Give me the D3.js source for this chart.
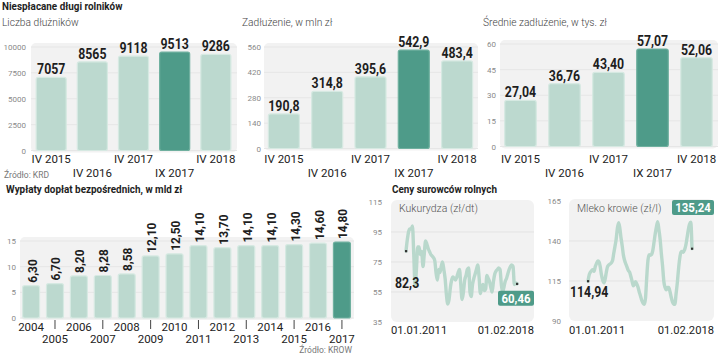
<!DOCTYPE html>
<html><head><meta charset="utf-8">
<script src="https://cdn.jsdelivr.net/npm/d3@7"></script>
<style>body{margin:0;background:#fff} svg{display:block}</style>
</head><body><svg id="c" width="720" height="357"></svg>
<script>
// ---------- DATA ----------
const debtCats = ["IV 2015", "IV 2016", "IV 2017", "IX 2017", "IV 2018"];
const debtHighlight = "IX 2017";
const debtorsCount = [7057, 8565, 9118, 9513, 9286];
const debtTotal = [190.8, 314.8, 395.6, 542.9, 483.4];
const debtAvg = [27.04, 36.76, 43.40, 57.07, 52.06];
const debtorsTicks = [0, 2500, 5000, 7500, 10000];
const totalTicks = [0, 140, 280, 420, 560];
const avgTicks = [0, 15, 30, 45, 60];

const payYears = ["2004","2005","2006","2007","2008","2009","2010","2011","2012","2013","2014","2015","2016","2017"];
const payValues = [6.30, 6.70, 8.20, 8.28, 8.58, 12.10, 12.50, 14.10, 13.70, 14.10, 14.10, 14.30, 14.60, 14.80];
const payHighlight = "2017";
const payTicks = [0, 5, 10, 15];

const priceStart = "01.01.2011", priceEnd = "01.02.2018";
const cornValues = [82.3,90,95,97,97,99,80,59,70,85,85,80,82,72,80,89,87,84,82,80,79,78,76,68,63,70,68,72,75,70,64,53,47,50,58,63,65,64,63,65,68,70,60,50,55,63,66,70,71,55,52,60,64,67,70,73,65,54,58,60,56,57,66,64,62,58,55,62,67,69,70,71,70,60,55,58,62,64,67,70,72,73,72,60,61,60.46];
const cornTicks = [35, 55, 75, 95, 115];
const milkValues = [114.94,119,120.5,121.5,122,121,124,126,127.5,127,124,119,115.6,113.8,116,120.5,124,125,125.6,126.3,127.6,132,136.5,141,148,151.5,148.5,142,137,131,127.8,125.5,123.5,121.5,120.5,118,115,112,113,114.5,113,111,108,105.5,102.8,101.2,100.4,104,117,128,131.5,131,131.5,134,139,144.5,149,152,147,141,132,124,115,111,109.5,111,111,108.5,105,102,100.7,100.4,107,114,122,129,133,133.5,133,134.5,137.5,142,147,150.5,151.8,135.24];
const milkTicks = [90, 115, 140, 165];

// ---------- STYLE ----------
const LIGHT = "#bcd9cf", DARK = "#4e9b89", LINE = "#b9d8cc", BG = "#f2f2f2";
const BOLD = "Roboto, 'Open Sans', sans-serif";
const REG = "Roboto, 'Open Sans', sans-serif";
const SQ = 0.88; // horizontal squeeze for condensed bold look
const comma = f => v => f(v).replace(".", ",");

const svg = d3.select("#c");

// condensed bold text helper
function ctext(parent, x, y, txt, size, opts = {}) {
  const rot = opts.rotate ? " rotate(-90)" : "";
  return parent.append("text")
    .attr("transform", `translate(${x},${y})${rot} scale(${opts.sq || SQ},1)`)
    .attr("text-anchor", opts.anchor || "start")
    .attr("font-family", BOLD).attr("font-weight", opts.weight || 700)
    .attr("font-size", size).attr("fill", opts.fill || "#1e1e1e").text(txt);
}

function barPanel(cats, vals, ticks, c) {
  const g = svg.append("g");
  const x = d3.scaleBand().domain(cats).range([c.x0, c.x1]).paddingInner(c.pi).paddingOuter(c.po);
  const y = d3.scaleLinear().domain([0, ticks[ticks.length - 1]]).range([c.yb, c.yt]);
  g.append("rect").attr("x", c.x0 + 1).attr("y", c.yt - 4).attr("width", c.x1 - c.x0 - 1)
    .attr("height", c.yb - c.yt + 6).attr("rx", 5).attr("fill", BG);
  g.selectAll(".grid").data(ticks).join("line")
    .attr("x1", c.x0 + 1).attr("x2", c.x1).attr("y1", d => y(d)).attr("y2", d => y(d))
    .attr("stroke", "#e6e6e6").attr("stroke-width", 1);
  const ax = g.append("g").attr("transform", `translate(${c.tickX},0)`)
    .call(d3.axisLeft(y).tickValues(ticks).tickFormat(d3.format("d")).tickSize(0).tickPadding(0));
  ax.select(".domain").remove();
  ax.selectAll("text").attr("font-family", REG).attr("font-size", 8).attr("fill", "#8a8a8a");
  g.selectAll(".bar").data(cats).join("rect")
    .attr("x", d => x(d)).attr("width", x.bandwidth())
    .attr("y", (d, i) => y(vals[i])).attr("height", (d, i) => y(0) - y(vals[i]))
    .attr("rx", 2).attr("fill", d => d === c.hl ? DARK : LIGHT)
    .attr("stroke", d => d === c.hl ? "#6fb09f" : "#d6e9e2").attr("stroke-width", 1.2);
  return {g, x, y};
}

// ---------- TOP ROW ----------
ctext(svg, 2, 10, "Niespłacane długi rolników", 11.5, {sq: 0.86});

const topCfgs = [
  {vals: debtorsCount, ticks: debtorsTicks, fmt: d3.format("d"), sub: "Liczba dłużników", subX: 2,
   x0: 30, x1: 237, pi: 0.27, po: 0.15, yb: 150.5, yt: 47, tickX: 26},
  {vals: debtTotal, ticks: totalTicks, fmt: comma(d3.format(".1f")), sub: "Zadłużenie, w mln zł", subX: 242,
   x0: 263, x1: 478, pi: 0.284, po: 0.125, yb: 148.5, yt: 47, tickX: 261},
  {vals: debtAvg, ticks: avgTicks, fmt: comma(d3.format(".2f")), sub: "Średnie zadłużenie, w tys. zł", subX: 483,
   x0: 499, x1: 718, pi: 0.284, po: 0.13, yb: 146.5, yt: 44, tickX: 496}
];
topCfgs.forEach(c => {
  c.hl = debtHighlight;
  const {g, x, y} = barPanel(debtCats, c.vals, c.ticks, c);
  svg.append("text").attr("x", c.subX).attr("y", 26).text(c.sub)
    .attr("font-family", REG).attr("font-weight", 300).attr("font-size", 10.2).attr("fill", "#444");
  debtCats.forEach((d, i) => {
    ctext(g, x(d) + x.bandwidth() / 2, y(c.vals[i]) - 3, c.fmt(c.vals[i]), 14, {anchor: "middle"});
  });
  g.selectAll(".lab").data(debtCats).join("text")
    .attr("x", d => x(d) + x.bandwidth() / 2).attr("y", (d, i) => i % 2 ? 176.5 : 162.5)
    .attr("text-anchor", "middle").text(d => d)
    .attr("font-family", REG).attr("font-size", 11.5).attr("fill", "#222");
});
svg.append("text").attr("x", 4).attr("y", 178).text("Źródło: KRD")
  .attr("font-family", REG).attr("font-size", 8.5).attr("fill", "#777");

// ---------- BOTTOM LEFT ----------
ctext(svg, 6, 193, "Wypłaty dopłat bezpośrednich, w mld zł", 11.5, {sq: 0.86});
{
  const c = {x0: 19, x1: 354, pi: 0.29, po: 0.15, yb: 318, yt: 241, tickX: 16, hl: payHighlight};
  const fmt = comma(d3.format(".2f"));
  const {g, x, y} = barPanel(payYears, payValues, payTicks, c);
  payYears.forEach((d, i) => {
    ctext(g, x(d) + x.bandwidth() / 2 + 5.5, y(payValues[i]) - 3, fmt(payValues[i]), 13.5, {rotate: true});
  });
  g.selectAll(".yr").data(payYears).join("text")
    .attr("x", d => x(d) + x.bandwidth() / 2).attr("y", (d, i) => i % 2 ? 342.5 : 331)
    .attr("text-anchor", "middle").text(d => d)
    .attr("font-family", REG).attr("font-size", 11.5).attr("fill", "#222");
  g.selectAll(".tk").data(payYears.filter((d, i) => i % 2)).join("line")
    .attr("x1", d => x(d) + x.bandwidth() / 2).attr("x2", d => x(d) + x.bandwidth() / 2)
    .attr("y1", 320).attr("y2", 329).attr("stroke", "#444").attr("stroke-width", 1);
}
svg.append("text").attr("x", 352).attr("y", 353).attr("text-anchor", "end").text("Źródło: KROW")
  .attr("font-family", REG).attr("font-size", 8.5).attr("fill", "#777");

// ---------- BOTTOM RIGHT: LINES ----------
ctext(svg, 392, 193, "Ceny surowców rolnych", 11.5, {sq: 0.86});

const months = d3.timeMonth.range(new Date(2011, 0, 1), new Date(2018, 2, 1));

function linePanel(vals, ticks, c) {
  const g = svg.append("g");
  const x = d3.scaleTime().domain([months[0], months[months.length - 1]]).range([c.lx0, c.lx1]);
  const y = d3.scaleLinear().domain([ticks[0], ticks[ticks.length - 1]]).range([c.yb, c.yt]);
  g.append("rect").attr("x", c.bx0).attr("y", c.yt - 2).attr("width", c.bx1 - c.bx0)
    .attr("height", c.yb - c.yt + 2).attr("rx", 6).attr("fill", BG);
  g.selectAll(".grid").data(ticks.slice(1, -1)).join("line")
    .attr("x1", c.bx0).attr("x2", c.bx1).attr("y1", d => y(d)).attr("y2", d => y(d))
    .attr("stroke", "#e3e3e3").attr("stroke-width", 1);
  const ax = g.append("g").attr("transform", `translate(${c.tickX},0)`)
    .call(d3.axisLeft(y).tickValues(ticks).tickFormat(d3.format("d")).tickSize(0).tickPadding(0));
  ax.select(".domain").remove();
  ax.selectAll("text").attr("font-family", REG).attr("font-size", 8).attr("fill", "#8a8a8a");
  const data = months.map((m, i) => ({m, v: vals[i]}));
  g.append("path").datum(data)
    .attr("d", d3.line().x(d => x(d.m)).y(d => y(d.v)).curve(d3.curveMonotoneX))
    .attr("fill", "none").attr("stroke", LINE).attr("stroke-width", 3.4)
    .attr("stroke-linejoin", "round").attr("stroke-linecap", "round");
  [data[0], data[data.length - 1]].forEach(d => {
    g.append("rect").attr("x", x(d.m) - 1).attr("y", y(d.v) - 1).attr("width", 2.2).attr("height", 2.2).attr("fill", "#333");
  });
  g.append("text").attr("x", c.bx0 + 8).attr("y", 212).text(c.sub)
    .attr("font-family", REG).attr("font-weight", 300).attr("font-size", 10.5).attr("fill", "#555");
  g.append("text").attr("x", c.bx0).attr("y", 334).text(priceStart)
    .attr("font-family", REG).attr("font-size", 11.2).attr("fill", "#222");
  g.append("text").attr("x", c.bx1).attr("y", 334).attr("text-anchor", "end").text(priceEnd)
    .attr("font-family", REG).attr("font-size", 11.2).attr("fill", "#222");
  return {g, x, y, data};
}

{
  const fmt = comma(d3.format(".1f"));
  const fmt2 = comma(d3.format(".2f"));
  const p = linePanel(cornValues, cornTicks,
    {bx0: 391, bx1: 534, lx0: 406, lx1: 517, yb: 322, yt: 202, tickX: 382, sub: "Kukurydza (zł/dt)"});
  const f = p.data[0], l = p.data[p.data.length - 1];
  ctext(p.g, p.x(f.m) - 11, p.y(f.v) + 37, fmt(f.v), 14);
  p.g.append("rect").attr("x", 498).attr("y", p.y(l.v) + 7).attr("width", 36).attr("height", 15).attr("rx", 2).attr("fill", DARK);
  ctext(p.g, 516, p.y(l.v) + 19, fmt2(l.v), 13, {anchor: "middle", fill: "#fff"});
}
{
  const fmt = comma(d3.format(".2f"));
  const p = linePanel(milkValues, milkTicks,
    {bx0: 569, bx1: 714, lx0: 588, lx1: 692, yb: 321, yt: 201, tickX: 561, sub: "Mleko krowie (zł/l)"});
  const f = p.data[0], l = p.data[p.data.length - 1];
  ctext(p.g, p.x(f.m) - 18, p.y(f.v) + 16, fmt(f.v), 14);
  p.g.append("rect").attr("x", 672).attr("y", 200).attr("width", 42).attr("height", 15).attr("rx", 2).attr("fill", DARK);
  ctext(p.g, 693, 212, fmt(l.v), 13, {anchor: "middle", fill: "#fff"});
}
</script></body></html>
